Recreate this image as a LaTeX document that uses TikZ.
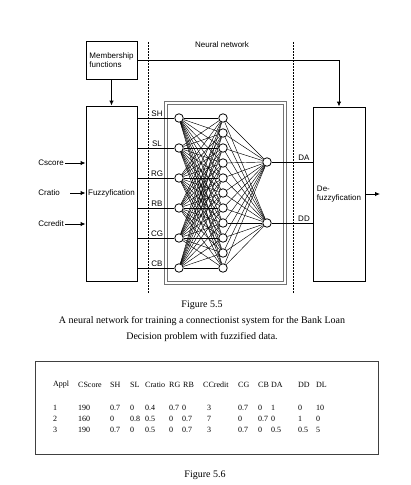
\documentclass[tikz,border=0pt]{standalone}
\usepackage{fontspec}
\setmainfont{Liberation Serif}
\newfontfamily\diagfont{Liberation Sans}
\usetikzlibrary{arrows.meta}

\tikzset{
  box/.style={draw, line width=0.9pt, inner sep=1pt},
  neuron/.style={circle, draw, fill=white, line width=0.8pt, minimum size=8.5pt, inner sep=0pt},
  lab/.style={font=\diagfont\fontsize{8}{9.5}\selectfont, inner sep=1pt},
  wire/.style={line width=0.9pt},
  link/.style={line width=0.45pt},
  arr/.style={line width=0.9pt, -{Latex[length=5pt,width=4.5pt]}},
  sep/.style={line width=1pt, dash pattern=on 1.5pt off 1.5pt},
  netframe/.style={draw=black!55, double=white, double distance=1.2pt, line width=1pt},
  tab/.style={font=\fontsize{8}{9}\selectfont, anchor=west, inner sep=0pt},
}

\begin{document}
\begin{tikzpicture}[x=1pt,y=-1pt]
  \useasboundingbox (0,0) rectangle (411,485);
  % blocks
  \node[box, lab, minimum width=51pt, minimum height=38pt, align=left] (mem) at (111.5,60) {Membership\\functions};
  \node[box, lab, minimum width=51pt, minimum height=175pt] (fuzz) at (111.5,193.5) {Fuzzyfication};
  \node[box, lab, minimum width=52pt, minimum height=174pt, align=left] (defuzz) at (339,194) {De-\\fuzzyfication};
  \node[netframe, minimum width=119pt, minimum height=180pt] (net) at (225.5,193) {};
  \node[lab] (title) at (222,45) {Neural network};
  \draw[sep] (148,42) -- (148,293);
  \draw[sep] (293,42) -- (293,293);
  \draw[arr] (mem) -- (fuzz);
  \draw[arr] (mem.east) -| (defuzz.north);

  % inputs
  \node[lab, anchor=east] (cscore) at (65,163) {Cscore};
  \node[lab, anchor=east] (cratio) at (61,193) {Cratio};
  \node[lab, anchor=east] (ccredit) at (65,224) {Ccredit};
  \draw[arr] (cscore.east) -- (cscore -| fuzz.west);
  \draw[arr] ([xshift=9pt]cratio.east) -- (cratio -| fuzz.west);
  \draw[arr] (ccredit.east) -- (ccredit -| fuzz.west);

  % network
  \foreach \n [count=\i] in {SH,SL,RG,RB,CG,CB} {
    \node[neuron] (in\i) at (179,88+30*\i) {};
    \draw[wire] (fuzz.east |- in\i) -- (in\i);
    \node[lab, anchor=south] (lin\i) at (157,88+30*\i) {\n};
  }
  \foreach \j in {1,...,11}
    \node[neuron] (hid\j) at (223,103+15*\j) {};
  \node[neuron] (out1) at (267,162) {};
  \node[neuron] (out2) at (267,223) {};
  \foreach \i in {1,...,6}
    \foreach \j in {1,...,11}
      \draw[link] (in\i) -- (hid\j);
  \foreach \j in {1,...,11}
    \foreach \k in {1,2}
      \draw[link] (hid\j) -- (out\k);
  \draw[wire] (out1) -- (out1 -| defuzz.west);
  \draw[wire] (out2) -- (out2 -| defuzz.west);
  \node[lab, anchor=south] (lda) at (304,162) {DA};
  \node[lab, anchor=south] (ldd) at (304,223) {DD};
  \coordinate (res) at (380,194);
  \draw[arr] (defuzz.east) -- (res);

  % captions and table
  \node[font=\fontsize{10}{16}\selectfont, align=center] (cap1) at (202,321) {Figure 5.5\\A neural network for training a connectionist system for the Bank Loan\\Decision problem with fuzzified data.};
  \node[draw=black!75, line width=0.7pt, minimum width=343pt, minimum height=93pt] (tbl) at (206.5,407.5) {};
  \foreach \x/\v/\a/\b/\c/\d [count=\k] in {53/53/Appl/1/2/3, 78/78/CScore/190/160/190,
      110/110/SH/0.7/0/0.7, 130/130/SL/0/0.8/0, 145/145/Cratio/0.4/0.5/0.5,
      169/169/RG/0.7/0/0, 183/182/RB/0/0.7/0.7, 203/207/CCredit/3/7/3,
      238/238/CG/0.7/0/0.7, 258/258/CB/0/0.7/0, 271/271/DA/1/0/0.5,
      298/298/DD/0/1/0.5, 316/316/DL/10/0/5} {
    \node[tab] (hd\k) at (\x,385) {\a};
    \node[tab] (ra\k) at (\v,408) {\b};
    \node[tab] (rb\k) at (\v,419) {\c};
    \node[tab] (rc\k) at (\v,430) {\d};
  }
  \node[font=\fontsize{10}{12}\selectfont] (cap2) at (205,475) {Figure 5.6};
\end{tikzpicture}
\end{document}
